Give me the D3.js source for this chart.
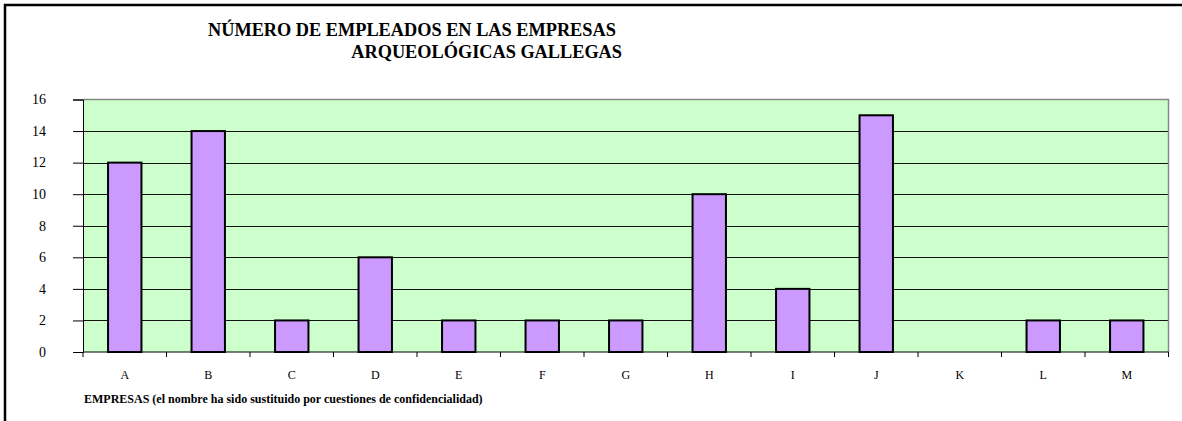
<!DOCTYPE html>
<html lang="es">
<head>
<meta charset="UTF-8">
<title>Número de empleados</title>
<script src="https://cdn.jsdelivr.net/npm/d3@7"></script>
<style>
    body { margin: 0; background: #fff; }
</style>
</head>
<body>
<script>
    const empresas = ['A', 'B', 'C', 'D', 'E', 'F', 'G', 'H', 'I', 'J', 'K', 'L', 'M'];
    const empleados = [12, 14, 2, 6, 2, 2, 2, 10, 4, 15, 0, 2, 2];
    const yTicks = [0, 2, 4, 6, 8, 10, 12, 14, 16];
    const titleLines = ['NÚMERO DE EMPLEADOS EN LAS EMPRESAS', 'ARQUEOLÓGICAS GALLEGAS'];
    const xTitle = 'EMPRESAS (el nombre ha sido sustituido por cuestiones de confidencialidad)';

    const serif = "'Liberation Serif', 'Times New Roman', Times, serif";
    const w = 1182, h = 421;
    const plot = { left: 83, right: 1168.5, top: 99.5, bottom: 352 };

    const svg = d3.select('body').append('svg')
        .attr('width', w)
        .attr('height', h)
        .style('font-family', serif);

    // outer frame (runs off the right/bottom of the picture)
    svg.append('rect')
        .attr('x', 5).attr('y', 5)
        .attr('width', w + 10).attr('height', h + 10)
        .attr('fill', 'none')
        .attr('stroke', '#000')
        .attr('stroke-width', 2.5);

    const x = d3.scaleBand(empresas, [plot.left, plot.right]);
    const y = d3.scaleLinear([0, 16], [plot.bottom, plot.top]);

    svg.append('rect')
        .attr('x', plot.left).attr('y', plot.top)
        .attr('width', plot.right - plot.left)
        .attr('height', plot.bottom - plot.top)
        .attr('fill', '#ccffcc');

    // gridlines
    svg.append('g')
        .selectAll('line')
        .data(yTicks.filter(d => d > 0 && d < 16))
        .join('line')
        .attr('x1', plot.left).attr('x2', plot.right)
        .attr('y1', d => Math.round(y(d)) + 0.5)
        .attr('y2', d => Math.round(y(d)) + 0.5)
        .attr('stroke', '#111')
        .attr('stroke-width', 1);

    // plot border, grey
    svg.append('path')
        .attr('d', `M${plot.left},${plot.top}H${plot.right}V${plot.bottom}`)
        .attr('fill', 'none')
        .attr('stroke', '#888')
        .attr('stroke-width', 1.5);

    const bw = x.bandwidth() * 0.4;
    svg.append('g')
        .selectAll('rect')
        .data(empresas.map((e, i) => ({ e, v: empleados[i] })).filter(d => d.v > 0))
        .join('rect')
        .attr('x', d => x(d.e) + (x.bandwidth() - bw) / 2)
        .attr('y', d => y(d.v))
        .attr('width', bw)
        .attr('height', d => y(0) - y(d.v))
        .attr('fill', '#cc99ff')
        .attr('stroke', '#000')
        .attr('stroke-width', 2);

    const yAxis = d3.axisLeft(y).tickValues(yTicks).tickSize(10).tickFormat('');
    const ya = svg.append('g')
        .attr('transform', `translate(${plot.left},0)`)
        .call(yAxis);
    ya.selectAll('path, line').attr('stroke', '#000');

    // y labels, well to the left of the ticks
    svg.append('g')
        .selectAll('text')
        .data(yTicks)
        .join('text')
        .attr('x', 46)
        .attr('y', d => y(d))
        .attr('dy', '0.34em')
        .attr('text-anchor', 'end')
        .attr('font-family', serif)
        .attr('font-size', 14)
        .text(d => d);

    const xAxis = d3.axisBottom(x).tickSize(0).tickPadding(18.5);
    const xa = svg.append('g')
        .attr('transform', `translate(0,${plot.bottom})`)
        .call(xAxis)
        .attr('font-family', serif)
        .attr('font-size', 12);
    xa.select('.domain').attr('stroke', '#000').attr('d', `M${plot.left},0H${plot.right}`);
    // ticks at category boundaries
    xa.selectAll('.sep')
        .data(empresas.map(e => x(e)).concat([plot.right]))
        .join('line')
        .attr('class', 'sep')
        .attr('x1', d => d).attr('x2', d => d)
        .attr('y1', 0).attr('y2', 5)
        .attr('stroke', '#000');

    svg.append('text')
        .attr('x', 84).attr('y', 403)
        .attr('font-family', serif)
        .attr('font-size', 12)
        .attr('font-weight', 'bold')
        .text(xTitle);

    // title: first line starts at left, second line ends a bit further right
    svg.append('g')
        .selectAll('text')
        .data(titleLines)
        .join('text')
        .attr('x', (d, i) => i === 0 ? 208 : 622)
        .attr('y', (d, i) => 36 + i * 22)
        .attr('text-anchor', (d, i) => i === 0 ? 'start' : 'end')
        .attr('font-family', serif)
        .attr('font-size', 18.3)
        .attr('font-weight', 'bold')
        .text(d => d);
</script>
</body>
</html>
